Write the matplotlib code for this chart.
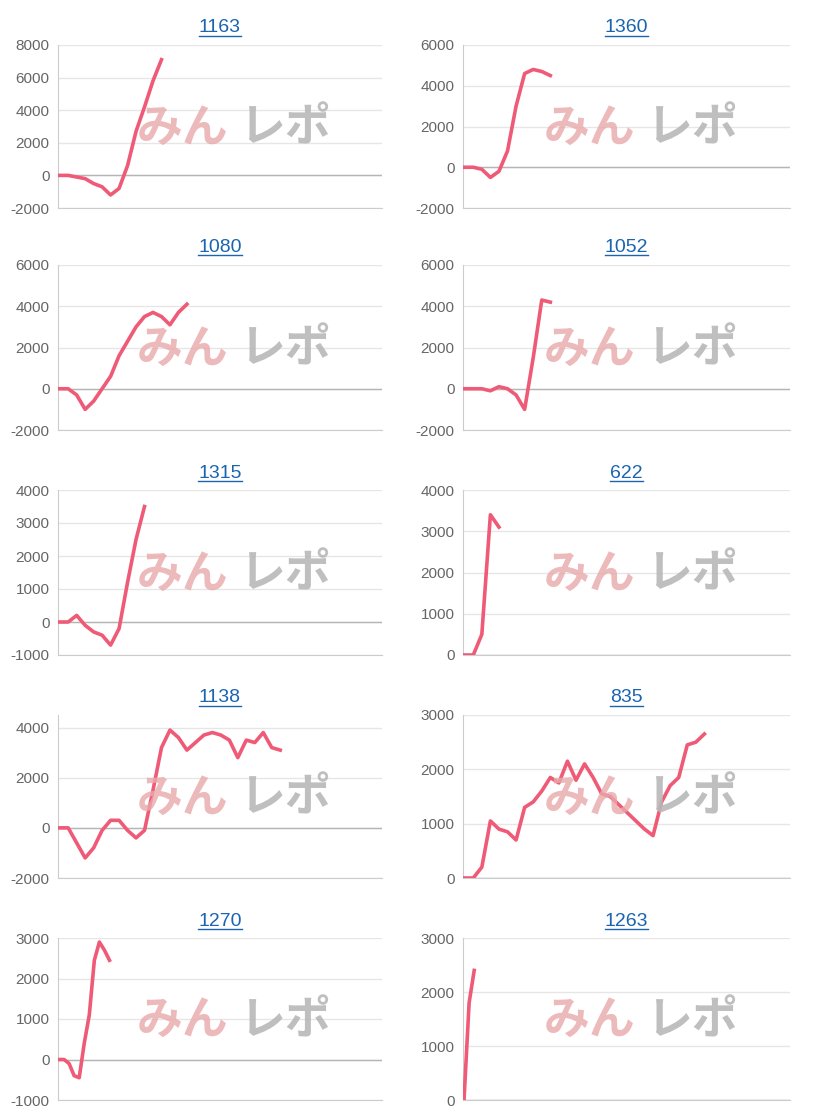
import matplotlib.pyplot as plt

plt.rcParams['font.family'] = ['Liberation Sans', 'Noto Sans CJK JP', 'DejaVu Sans']
plt.rcParams['axes.unicode_minus'] = False

# データ
titles = ["1163", "1360", "1080", "1052", "1315", "622", "1138", "835", "1270", "1263"]
series = [
    [0, 0, -100, -200, -500, -700, -1200, -800, 600, 2700, 4200, 5800, 7100],
    [0, 0, -100, -500, -200, 800, 3000, 4600, 4800, 4700, 4500],
    [0, 0, -300, -1000, -600, 0, 600, 1600, 2300, 3000, 3500, 3700, 3500, 3100, 3700, 4100],
    [0, 0, 0, -100, 100, 0, -300, -1000, 1500, 4300, 4200],
    [0, 0, 200, -100, -300, -400, -700, -200, 1200, 2500, 3500],
    [0, 0, 500, 3400, 3100],
    [0, 0, -600, -1200, -800, -100, 300, 300, -100, -400, -100, 1500, 3200, 3900, 3600,
     3100, 3400, 3700, 3800, 3700, 3500, 2800, 3500, 3400, 3800, 3200, 3100],
    [0, 0, 200, 1050, 900, 850, 700, 1300, 1400, 1600, 1850, 1750, 2150, 1800, 2100,
     1850, 1550, 1500, 1350, 1200, 1050, 900, 780, 1400, 1700, 1850, 2450, 2500, 2650],
    [0, 0, -100, -400, -450, 400, 1100, 2450, 2900, 2700, 2450],
    [0, 1800, 2400],
]
yticks = [
    [-2000, 0, 2000, 4000, 6000, 8000],
    [-2000, 0, 2000, 4000, 6000],
    [-2000, 0, 2000, 4000, 6000],
    [-2000, 0, 2000, 4000, 6000],
    [-1000, 0, 1000, 2000, 3000, 4000],
    [0, 1000, 2000, 3000, 4000],
    [-2000, 0, 2000, 4000],
    [0, 1000, 2000, 3000],
    [-1000, 0, 1000, 2000, 3000],
    [0, 1000, 2000, 3000],
]
# 各チャートの x 軸の幅 (点の数の目安)
xmax = [38, 38, 38, 38, 38, 38, 38, 38, 64, 64]
ytop = [None, None, None, None, None, None, 4500, None, None, None]

W, H = 818, 1120
fig = plt.figure(figsize=(W / 100, H / 100), dpi=100)

row_top = [45, 265, 490, 715, 938]
row_bot = [208, 430, 655, 878, 1100]
col_x = [(58, 382), (463, 790)]

for i, t in enumerate(titles):
    r, c = divmod(i, 2)
    x0, x1 = col_x[c]
    y0, y1 = row_top[r], row_bot[r]
    ax = fig.add_axes([x0 / W, 1 - y1 / H, (x1 - x0) / W, (y1 - y0) / H])
    ax.plot(range(len(series[i])), series[i], color='#ef5a77', lw=2.6, zorder=3)
    ax.set_xlim(-0.2, xmax[i])
    top = ytop[i] if ytop[i] else yticks[i][-1]
    ax.set_ylim(yticks[i][0], top)
    ax.set_yticks(yticks[i])
    ax.set_xticks([])
    ax.grid(axis='y', color='#e6e6e6', lw=1)
    ax.axhline(0, color='#b5b5b5', lw=1, zorder=2)
    for s in ['top', 'right']:
        ax.spines[s].set_visible(False)
    ax.spines['left'].set_color('#cccccc')
    ax.spines['bottom'].set_color('#cccccc')
    ax.tick_params(axis='y', length=0, labelsize=11, labelcolor='#666666', pad=6)
    ax.set_title(t, fontsize=14, color='#1a64b0', pad=9)
    # ウォーターマーク
    cx = (x0 + x1) / 2 + 15
    cy = (y0 + y1) / 2 + 3
    fig.text((cx - 52) / W, 1 - cy / H, "みん", fontsize=33, fontweight='bold', style='italic',
             color='#e9a9ab', alpha=0.8, ha='center', va='center')
    fig.text((cx + 50) / W, 1 - cy / H, "レポ", fontsize=33, fontweight='bold', style='italic',
             color='#b8b8b8', alpha=0.9, ha='center', va='center')

fig.canvas.draw()
for ax in fig.axes:
    bb = ax.title.get_window_extent()
    fig.add_artist(plt.Line2D([bb.x0 / W, bb.x1 / W], [(bb.y0 + 1) / H] * 2,
                              color='#1a64b0', lw=1))

fig.savefig('out.png', dpi=100)
